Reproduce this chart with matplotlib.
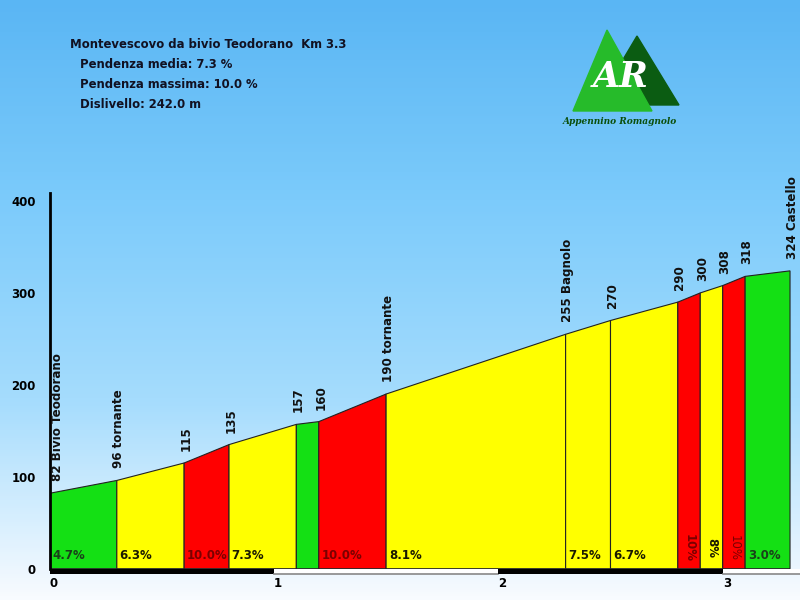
import numpy as np
import matplotlib.pyplot as plt
from matplotlib.colors import LinearSegmentedColormap
from matplotlib.patches import Polygon, Rectangle

# profilo: km e quota dei punti
km = [0, 0.3, 0.6, 0.8, 1.1, 1.2, 1.5, 2.3, 2.5, 2.8, 2.9, 3.0, 3.1, 3.3]
alt = [82, 96, 115, 135, 157, 160, 190, 255, 270, 290, 300, 308, 318, 324]
point_labels = ['82 Bivio Teodorano', '96 tornante', '115', '135', '157', '160',
                '190 tornante', '255 Bagnolo', '270', '290', '300', '308', '318',
                '324 Castello']
slope_labels = ['4.7%', '6.3%', '10.0%', '7.3%', '', '10.0%', '8.1%', '7.5%',
                '6.7%', '10%', '8%', '10%', '3.0%']
seg_colors = ['green', 'yellow', 'red', 'yellow', 'green', 'red', 'yellow',
              'yellow', 'yellow', 'red', 'yellow', 'red', 'green']

title = 'Montevescovo da bivio Teodorano  Km 3.3'
info = ['Pendenza media: 7.3 %', 'Pendenza massima: 10.0 %', 'Dislivello: 242.0 m']

fill = {'green': '#14e014', 'yellow': '#ffff00', 'red': '#ff0000'}
txtcol = {'green': '#1a401a', 'yellow': '#1a1a00', 'red': '#7a0000'}

fig = plt.figure(figsize=(8, 6), dpi=100)

# sfondo sfumato + testi + logo (coordinate in pixel)
bg = fig.add_axes([0, 0, 1, 1])
bg.set_xlim(0, 800)
bg.set_ylim(600, 0)
bg.axis('off')
cmap = LinearSegmentedColormap.from_list('sky', ['#5ab6f4', '#7ccbfb', '#a5dcfd', '#f8fbff'])
grad = np.linspace(0, 1, 300).reshape(-1, 1)
bg.imshow(grad, cmap=cmap, extent=[0, 800, 600, 0], aspect='auto', zorder=0)

bg.text(70, 45, title, fontsize=8.4, fontweight='bold', va='center', color='#111122')
for i, t in enumerate(info):
    bg.text(80, 65 + i * 20, t, fontsize=8.4, fontweight='bold', va='center', color='#111122')

bg.add_patch(Polygon([(596, 105), (637, 36), (679, 105)], closed=True, color='#0b5c12', zorder=2))
bg.add_patch(Polygon([(573, 111), (607, 30), (652, 111)], closed=True, color='#26bb2a', zorder=3))
bg.text(621, 77, 'AR', fontsize=25, fontweight='bold', style='italic', color='white',
        ha='center', va='center', family='DejaVu Serif', zorder=4)
bg.text(620, 122, 'Appennino Romagnolo', fontsize=6.5, fontweight='bold', style='italic',
        color='#0b4f0b', ha='center', va='center', family='DejaVu Serif', zorder=4)

# grafico altimetrico
ax = fig.add_axes([49.5 / 800, (600 - 568.7) / 600, 750.5 / 800, (568.7 - 193) / 600])
ax.set_facecolor('none')
ax.set_xlim(0, 750.5 / 224.4)
ax.set_ylim(0, 376 / 0.92)

for i in range(len(km) - 1):
    x0, x1 = km[i], km[i + 1]
    poly = Polygon([(x0, 0), (x0, alt[i]), (x1, alt[i + 1]), (x1, 0)], closed=True,
                   facecolor=fill[seg_colors[i]], edgecolor='#222222', lw=0.8, zorder=2)
    ax.add_patch(poly)
    lab = slope_labels[i]
    if not lab:
        continue
    if x1 - x0 < 0.15:
        ax.text((x0 + x1) / 2, 23, lab, rotation=270, ha='center', va='center',
                fontsize=8.5, fontweight='bold' if i != 11 else 'normal',
                color=txtcol[seg_colors[i]], zorder=3)
    else:
        ax.text(x0 + 0.012, 14, lab, ha='left', va='center', fontsize=8.5,
                fontweight='bold', color=txtcol[seg_colors[i]], zorder=3)

for i, lab in enumerate(point_labels):
    dx = 8 if i == 0 else 2
    ax.annotate(lab, (km[i], alt[i]), xytext=(dx, 12), textcoords='offset pixels',
                rotation=90, ha='center', va='bottom', fontsize=8.6, fontweight='bold',
                color='#111111', zorder=3)

# barra chilometrica
for k in range(4):
    x1 = min(k + 1, ax.get_xlim()[1])
    if k % 2 == 0:
        ax.add_patch(Rectangle((k, -5.5), x1 - k, 5.5, facecolor='black', edgecolor='none',
                               clip_on=False, zorder=4))
    else:
        ax.add_patch(Rectangle((k, -5.5), x1 - k, 5.5, facecolor='white', edgecolor='none',
                               clip_on=False, zorder=4))
        ax.plot([k, x1], [-5.5, -5.5], color='#888888', lw=1.2, clip_on=False, zorder=4)

ax.spines['top'].set_visible(False)
ax.spines['right'].set_visible(False)
ax.spines['bottom'].set_visible(False)
ax.spines['left'].set_linewidth(2)
ax.set_yticks([0, 100, 200, 300, 400])
ax.set_xticks([0, 1, 2, 3])
ax.set_xticklabels(['0', '1', '2', '3'], ha='left')
ax.tick_params(axis='y', length=0, pad=10, labelsize=8.5)
ax.tick_params(axis='x', length=0, pad=6, labelsize=8.5)
for t in ax.get_xticklabels() + ax.get_yticklabels():
    t.set_fontweight('bold')

fig.savefig('out.png', dpi=100)
